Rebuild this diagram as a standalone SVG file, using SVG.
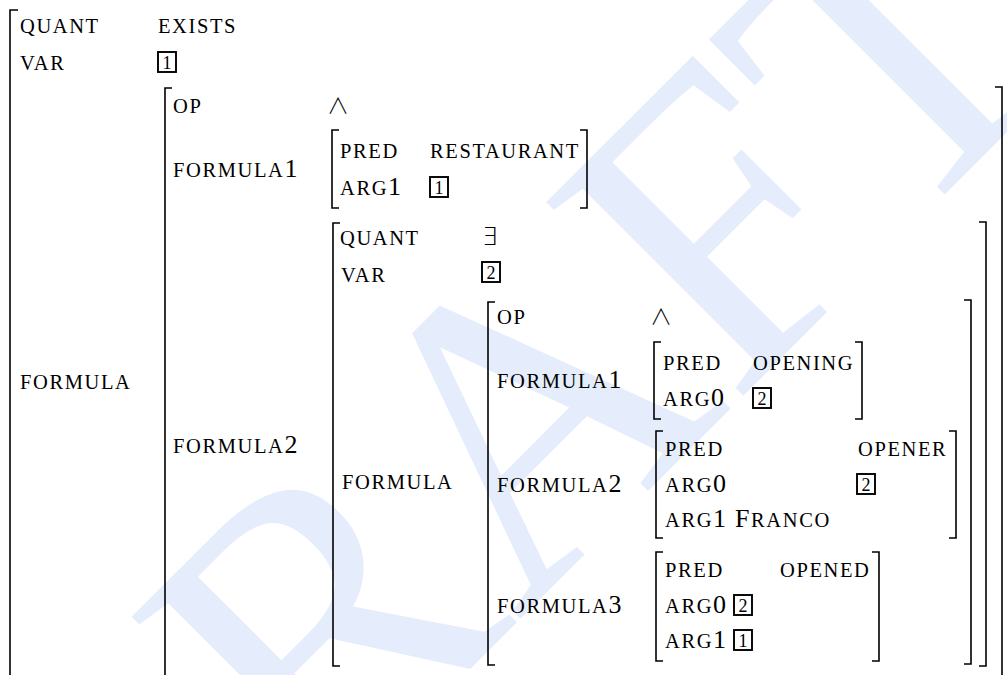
<svg xmlns="http://www.w3.org/2000/svg" width="1007" height="675" viewBox="0 0 1007 675">
<style>
.wm{font-size:422px;fill:#e5edfc}
.sc{font-size:20.5px;letter-spacing:1.6px;fill:#000}
.d{font-size:26px}
.bk{fill:none;stroke:#000;stroke-width:1.6}
.box{fill:none;stroke:#000;stroke-width:1.9}
.tg{font-size:18px;fill:#000;text-anchor:middle}
.and{font-size:22px;fill:#000}
.ex{font-size:25px;fill:#000}
</style>
<rect width="1007" height="675" fill="#fff"/>
<g id="watermark" font-family="'Liberation Serif', serif">
<text class="wm" x="102.9" y="1036.3" transform="rotate(-45 102.9 1036.3)">DRAFT</text>
</g>
<g id="brackets" class="bk">
<path d="M18,10H10V700"/>
<path d="M172,88H165V680M995,87H1002V680"/>
<path d="M339,130H332V208H339M580,130H587V208H580"/>
<path d="M340,223H333V666H340M979,222H986V666H979"/>
<path d="M495,302H488V665H495M964,300H971V664H964"/>
<path d="M661,342H654V419H661M855,342H862V419H855"/>
<path d="M663,431H656V538H663M949,431H956V538H949"/>
<path d="M663,552H656V661H663M872,552H879V661H872"/>
</g>
<g font-family="'Liberation Serif', serif">
<g id="avm0">
<text class="sc" x="20" y="33">QUANT</text>
<text class="sc" x="158" y="33">EXISTS</text>
<text class="sc" x="20" y="70">VAR</text>
<rect class="box" x="158" y="52" width="18" height="20"/><text class="tg" x="167" y="68.5">1</text>
<text class="sc" x="20" y="389">FORMULA</text>
</g>
<g id="avm1">
<text class="sc" x="173" y="113">OP</text>
<text class="and" x="327" y="113" font-family="'Noto Sans CJK JP', 'DejaVu Sans', sans-serif" font-weight="300">∧</text>
<text class="sc" x="173" y="177">FORMULA<tspan class="d">1</tspan></text>
<text class="sc" x="173" y="453">FORMULA<tspan class="d">2</tspan></text>
</g>
<g id="restaurant">
<text class="sc" x="340" y="158">PRED</text>
<text class="sc" x="430" y="158">RESTAURANT</text>
<text class="sc" x="340" y="195">ARG<tspan class="d">1</tspan></text>
<rect class="box" x="430" y="177" width="18" height="20"/><text class="tg" x="439" y="193.5">1</text>
</g>
<g id="avm2">
<text class="sc" x="340" y="245">QUANT</text>
<text class="ex" x="482" y="245" font-family="'DejaVu Sans', sans-serif" font-weight="200">∃</text>
<text class="sc" x="341" y="282">VAR</text>
<rect class="box" x="482" y="262" width="18" height="20"/><text class="tg" x="491" y="278.5">2</text>
<text class="sc" x="342" y="489">FORMULA</text>
</g>
<g id="avm3">
<text class="sc" x="497" y="324">OP</text>
<text class="and" x="650" y="324" font-family="'Noto Sans CJK JP', 'DejaVu Sans', sans-serif" font-weight="300">∧</text>
<text class="sc" x="497" y="388">FORMULA<tspan class="d">1</tspan></text>
<text class="sc" x="497" y="492">FORMULA<tspan class="d">2</tspan></text>
<text class="sc" x="497" y="613">FORMULA<tspan class="d">3</tspan></text>
</g>
<g id="opening">
<text class="sc" x="663" y="370">PRED</text>
<text class="sc" x="753" y="370">OPENING</text>
<text class="sc" x="663" y="406">ARG<tspan class="d">0</tspan></text>
<rect class="box" x="753" y="388" width="18" height="20"/><text class="tg" x="762" y="404.5">2</text>
</g>
<g id="opener">
<text class="sc" x="665" y="456">PRED</text>
<text class="sc" x="858" y="456">OPENER</text>
<text class="sc" x="665" y="492">ARG<tspan class="d">0</tspan></text>
<rect class="box" x="857" y="474" width="18" height="20"/><text class="tg" x="866" y="490.5">2</text>
<text class="sc" x="665" y="527">ARG<tspan class="d">1</tspan></text>
<text class="sc" x="735" y="527"><tspan class="d">F</tspan>RANCO</text>
</g>
<g id="opened">
<text class="sc" x="665" y="577">PRED</text>
<text class="sc" x="780" y="577">OPENED</text>
<text class="sc" x="665" y="613">ARG<tspan class="d">0</tspan></text>
<rect class="box" x="734" y="595" width="18" height="20"/><text class="tg" x="743" y="611.5">2</text>
<text class="sc" x="665" y="648">ARG<tspan class="d">1</tspan></text>
<rect class="box" x="734" y="630" width="18" height="20"/><text class="tg" x="743" y="646.5">1</text>
</g>
</g>
</svg>
